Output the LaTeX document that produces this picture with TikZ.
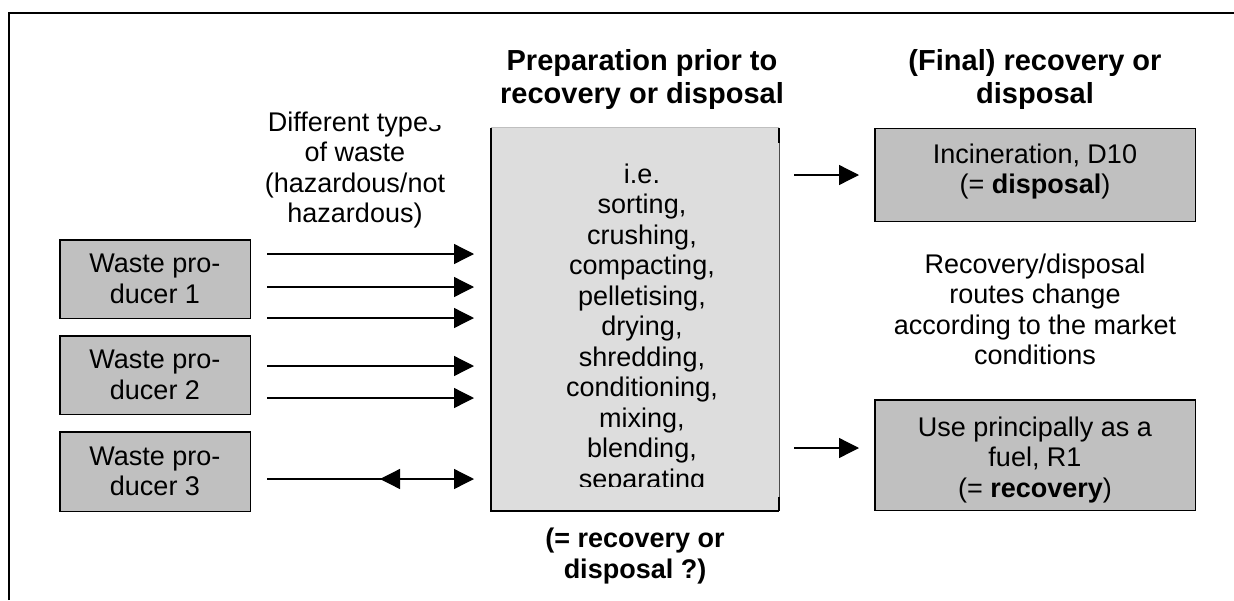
\documentclass[tikz,border=0pt]{standalone}
\usepackage{fontspec}
\setmainfont{Liberation Sans}
\usetikzlibrary{arrows.meta,calc}
\definecolor{boxgray}{HTML}{C0C0C0}
\definecolor{prepgray}{HTML}{DDDDDD}
\newcommand{\cutS}{\tikz[baseline=0pt]{\clip (0pt,-1pt) rectangle (14pt,6pt); \node[inner sep=0pt,anchor=base west] at (0pt,0pt) {s};}}
\begin{document}
\begin{tikzpicture}[x=1pt,y=-1pt,
  txt/.style={inner sep=0pt, align=center, font=\fontsize{27}{30.5}\selectfont},
  hdr/.style={inner sep=0pt, align=center, font=\fontsize{29}{33}\selectfont\bfseries},
  gbox/.style={draw=black, line width=1.5pt, fill=boxgray, inner sep=0pt},
  arr/.style={line width=1.3pt, -{Triangle[length=20pt,width=20pt]}},
]
\useasboundingbox (0,0) rectangle (1234,600);
\fill[white] (0,0) rectangle (1234,600);
\draw[line width=1.3pt] (9,600) -- (9,13) -- (1240,13);

% waste producers
\node[gbox, txt, minimum width=190.5pt, minimum height=78.5pt] (w1) at (155,279) {Waste pro-\\ducer 1};
\node[gbox, txt, minimum width=190.5pt, minimum height=78.5pt] (w2) at (155,375) {Waste pro-\\ducer 2};
\node[gbox, txt, minimum width=190.5pt, minimum height=79.5pt] (w3) at (155,471.5) {Waste pro-\\ducer 3};

% preparation box
\node[fill=prepgray, minimum width=288pt, minimum height=383pt, inner sep=0pt] (prep) at (635,319.5) {};
\draw[line width=1pt, draw=black!25] (prep.north west) -- (prep.north east);
\draw[line width=0.8pt, draw=black!70] (prep.north east) -- (prep.south east);
\draw[line width=1.5pt] (prep.north west) -- (prep.south west) -- (prep.south east);
\draw[line width=1.5pt] (prep.north east) -- ($(prep.north east)+(0,15)$);
\draw[line width=1.5pt] (prep.south east) -- ($(prep.south east)+(0,-14)$);
\begin{scope}
\clip (prep.north west) rectangle (779,486);
\node[txt, anchor=north] (preptext) at (642,163.5) {i.e.\\sorting,\\crushing,\\compacting,\\pelletising,\\drying,\\shredding,\\conditioning,\\mixing,\\blending,\\separating};
\end{scope}

% headers
\node[hdr, anchor=north] (h1) at (642,49) {Preparation prior to\\recovery or disposal};
\node[hdr, anchor=north] (h2) at (1035,49) {(Final) recovery or\\disposal};

% labels
\node[txt, anchor=north] (types) at (355,111.5) {Different type\cutS\\of waste\\(hazardous/not\\hazardous)};
\node[txt, font=\fontsize{27}{31}\selectfont\bfseries, anchor=north] (q) at (635,527.5) {(= recovery or\\disposal ?)};

% final boxes
\node[gbox, minimum width=320.5pt, minimum height=93pt] (inc) at (1035,175) {};
\node[txt, anchor=north] (inct) at (1035,143.5) {Incineration, D10\\(= \textbf{disposal})};
\node[txt, anchor=north] (routes) at (1035,253.5) {Recovery/disposal\\routes change\\according to the market\\conditions};
\node[gbox, minimum width=320.5pt, minimum height=110.5pt] (use) at (1035,455) {};
\node[txt, anchor=north] (uset) at (1035,416.5) {Use principally as a\\fuel, R1\\(= \textbf{recovery})};

% arrow end points
\coordinate (a1s) at (267,254); \coordinate (a1e) at (474,254);
\coordinate (a2s) at (267,287); \coordinate (a2e) at (474,287);
\coordinate (a3s) at (267,318); \coordinate (a3e) at (474,318);
\coordinate (a4s) at (267,366); \coordinate (a4e) at (474,366);
\coordinate (a5s) at (267,398); \coordinate (a5e) at (474,398);
\coordinate (a6s) at (267,479); \coordinate (a6e) at (474,479);
\coordinate (a6b) at (400,479); \coordinate (a6t) at (380,479);
\coordinate (r1s) at (794,175); \coordinate (r1e) at (859,175);
\coordinate (r2s) at (794,448); \coordinate (r2e) at (859,448);

\draw[arr] (a1s) -- (a1e);
\draw[arr] (a2s) -- (a2e);
\draw[arr] (a3s) -- (a3e);
\draw[arr] (a4s) -- (a4e);
\draw[arr] (a5s) -- (a5e);
\draw[arr] (a6s) -- (a6e);
\draw[arr] (a6b) -- (a6t);
\draw[arr] (r1s) -- (r1e);
\draw[arr] (r2s) -- (r2e);
\end{tikzpicture}
\end{document}
